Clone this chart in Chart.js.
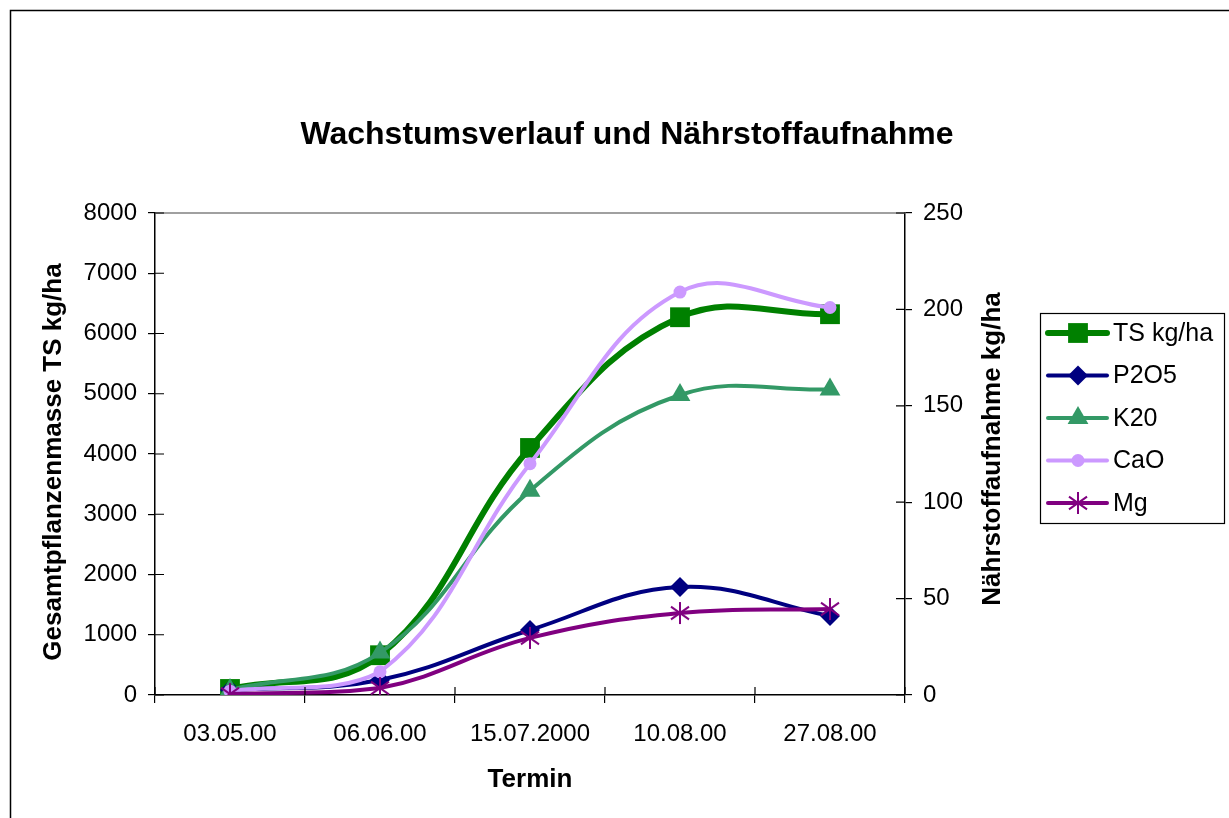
<!DOCTYPE html>
<html>
<head>
<meta charset="utf-8">
<script src="https://cdn.jsdelivr.net/npm/chart.js@4.4.0/dist/chart.umd.min.js"></script>
<style>
  html, body { margin: 0; padding: 0; background: #fff; }
  #wrap { position: relative; width: 1229px; height: 818px; }
</style>
</head>
<body>
<div id="wrap"><canvas id="chart"></canvas></div>
<script>
// Daten
const termine = ['03.05.00', '06.06.00', '15.07.2000', '10.08.00', '27.08.00'];
const tsKgHa = [100, 660, 4100, 6270, 6320];     // linke Achse
const p2o5 = [2.6, 7.8, 33.7, 56, 41];            // rechte Achse
const k20 = [2.6, 22, 106, 155.6, 158.5];
const caO = [2, 12, 120, 209, 201];
const mg = [0.5, 3.6, 29.6, 42.5, 44.6];
const leftTicks = [0, 8000, 1000];
const rightTicks = [0, 250, 50];

const FONT = "'Liberation Sans', Arial, sans-serif";

// Stern-Marker wie in Excel (senkrecht + X)
function starMarker(color, size) {
    const c = document.createElement('canvas');
    c.width = size; c.height = size;
    const g = c.getContext('2d');
    g.strokeStyle = color;
    g.lineWidth = 2;
    const m = size / 2, r = size / 2 - 1, d = r * 0.82;
    g.beginPath();
    g.moveTo(m, m - r); g.lineTo(m, m + r);
    g.moveTo(m - d, m - d * 0.7); g.lineTo(m + d, m + d * 0.7);
    g.moveTo(m - d, m + d * 0.7); g.lineTo(m + d, m - d * 0.7);
    g.stroke();
    return c;
}
const mgStar = starMarker('#800080', 24);

const PLOT = { left: 155, right: 905, top: 213, bottom: 695 };

const deko = {
    id: 'deko',
    afterDraw(chart) {
        const ctx = chart.ctx;
        const a = chart.chartArea;
        ctx.save();
        // Rahmen aussen
        ctx.strokeStyle = '#000';
        ctx.lineWidth = 1.5;
        ctx.strokeRect(10.5, 10.5, 1400, 1000);
        // obere Linie der Zeichnungsfläche
        ctx.strokeStyle = '#808080';
        ctx.lineWidth = 1.5;
        ctx.beginPath();
        ctx.moveTo(a.left, a.top); ctx.lineTo(a.right, a.top);
        ctx.stroke();
        // innere Hälfte der Teilstriche
        ctx.strokeStyle = '#000';
        ctx.lineWidth = 1.2;
        ctx.beginPath();
        const yl = chart.scales.y, yr = chart.scales.y2;
        yl.ticks.forEach((t, i) => {
            const py = yl.getPixelForTick(i);
            ctx.moveTo(a.left, py); ctx.lineTo(a.left + 9, py);
        });
        yr.ticks.forEach((t, i) => {
            const py = yr.getPixelForTick(i);
            ctx.moveTo(a.right, py); ctx.lineTo(a.right - 9, py);
        });
        for (let i = 0; i <= termine.length; i++) {
            const px = a.left + (a.right - a.left) * i / termine.length;
            ctx.moveTo(px, a.bottom); ctx.lineTo(px, a.bottom - 8);
        }
        ctx.stroke();

        // Titel
        ctx.fillStyle = '#000';
        ctx.textAlign = 'center';
        ctx.textBaseline = 'alphabetic';
        ctx.font = 'bold 32px ' + FONT;
        ctx.fillText('Wachstumsverlauf und Nährstoffaufnahme', 627, 144);
        ctx.font = 'bold 26px ' + FONT;
        ctx.fillText('Termin', (a.left + a.right) / 2, 787);
        ctx.save();
        ctx.translate(61, 462);
        ctx.rotate(-Math.PI / 2);
        ctx.fillText('Gesamtpflanzenmasse TS kg/ha', 0, 0);
        ctx.restore();
        ctx.save();
        ctx.translate(1000, 449);
        ctx.rotate(-Math.PI / 2);
        ctx.fillText('Nährstoffaufnahme kg/ha', 0, 0);
        ctx.restore();

        // Legende
        ctx.strokeStyle = '#000';
        ctx.lineWidth = 1.2;
        ctx.strokeRect(1040.5, 313.5, 184, 210);
        ctx.font = '25px ' + FONT;
        ctx.textAlign = 'left';
        ctx.textBaseline = 'middle';
        chart.data.datasets.forEach((ds, i) => {
            const y = 333 + i * 42.5;
            ctx.strokeStyle = ds.borderColor;
            ctx.lineWidth = ds.borderWidth;
            ctx.lineCap = 'round';
            ctx.beginPath();
            ctx.moveTo(1048, y); ctx.lineTo(1107, y);
            ctx.stroke();
            ctx.fillStyle = ds.pointBackgroundColor;
            ctx.strokeStyle = ds.pointBorderColor;
            Chart.helpers.drawPoint(ctx, {
                pointStyle: ds.pointStyle, radius: ds.pointRadius,
                rotation: 0, borderWidth: ds.pointBorderWidth
            }, 1078, y);
            ctx.fillStyle = '#000';
            ctx.fillText(ds.label, 1113, y + 1);
        });
        ctx.restore();
    }
};

function serie(label, data, color, width, style, radius, axis, order) {
    return {
        label, data, yAxisID: axis, order,
        borderColor: color, borderWidth: width,
        pointStyle: style, pointRadius: radius, pointHoverRadius: radius,
        pointBackgroundColor: color, pointBorderColor: color, pointBorderWidth: 0,
        tension: 0.4, fill: false
    };
}

const plain = v => String(v);

new Chart(document.getElementById('chart'), {
    type: 'line',
    data: {
        labels: termine,
        datasets: [
            serie('TS kg/ha', tsKgHa, '#008000', 6, 'rect', 14, 'y', 5),
            serie('P2O5', p2o5, '#000080', 4, 'rectRot', 10, 'y2', 4),
            serie('K20', k20, '#339966', 4, 'triangle', 12, 'y2', 3),
            serie('CaO', caO, '#CC99FF', 4, 'circle', 6.5, 'y2', 2),
            serie('Mg', mg, '#800080', 4, mgStar, 12, 'y2', 1)
        ]
    },
    options: {
        responsive: true,
        maintainAspectRatio: false,
        animation: false,
        layout: { padding: { top: PLOT.top, left: 0, right: 0, bottom: 0 } },
        plugins: {
            legend: { display: false },
            title: { display: false },
            tooltip: { enabled: false }
        },
        scales: {
            x: {
                offset: true,
                grid: { offset: true, drawOnChartArea: false, drawTicks: true, tickLength: 8, color: '#000', lineWidth: 1.2 },
                border: { color: '#000', width: 1.5 },
                ticks: { color: '#000', font: { family: FONT, size: 24 }, padding: 17, maxRotation: 0, autoSkip: false },
                afterFit(s) { s.height = 818 - PLOT.bottom; }
            },
            y: {
                position: 'left',
                min: leftTicks[0], max: leftTicks[1],
                grid: { drawOnChartArea: false, tickLength: 7, color: '#000', lineWidth: 1.2 },
                border: { color: '#000', width: 1.5 },
                ticks: { stepSize: leftTicks[2], color: '#000', font: { family: FONT, size: 24 }, padding: 11, callback: plain },
                afterFit(s) { s.width = PLOT.left; }
            },
            y2: {
                position: 'right',
                min: rightTicks[0], max: rightTicks[1],
                grid: { drawOnChartArea: false, tickLength: 7, color: '#000', lineWidth: 1.2 },
                border: { color: '#000', width: 1.5 },
                ticks: { stepSize: rightTicks[2], color: '#000', font: { family: FONT, size: 24 }, padding: 11, callback: plain },
                afterFit(s) { s.width = 1229 - PLOT.right; }
            }
        }
    },
    plugins: [deko]
});
</script>
</body>
</html>
